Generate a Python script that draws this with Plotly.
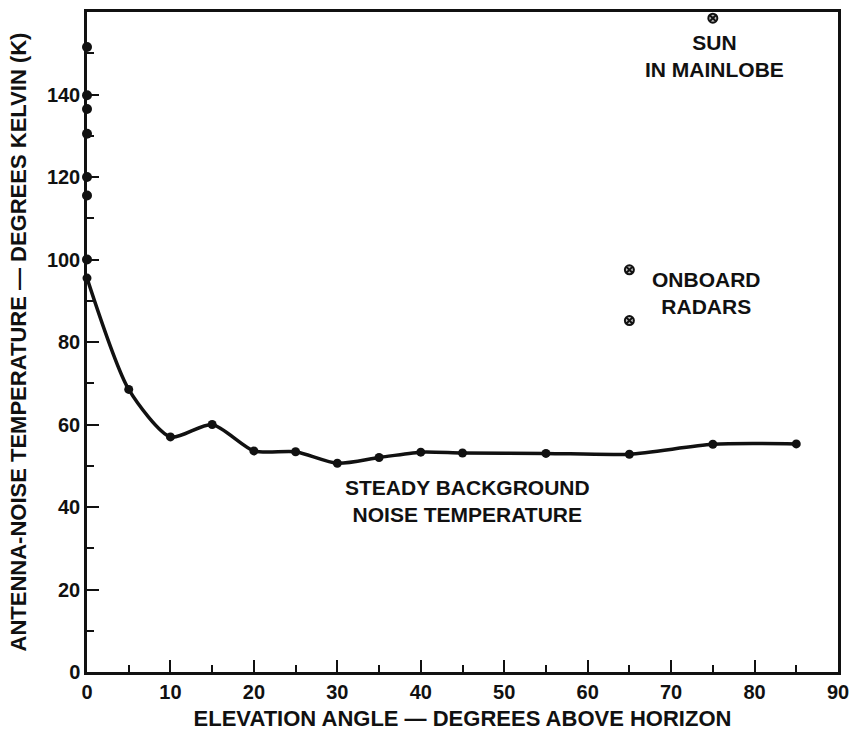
import plotly.graph_objects as go

# Steady background noise curve
curve_angle = [0, 5, 10, 15, 20, 25, 30, 35, 40, 45, 55, 65, 75, 85]
curve_temp = [95.5, 68.5, 57, 60, 53.6, 53.4, 50.6, 52, 53.3, 53.1, 53, 52.8, 55.2, 55.3]

# Points measured at zero elevation
zero_angle = [0, 0, 0, 0, 0, 0, 0]
zero_temp = [151.5, 139.8, 136.5, 130.5, 120, 115.5, 100]

# Special events
sun_angle = [75]
sun_temp = [158.5]
radar_angle = [65, 65]
radar_temp = [97.5, 85.2]

x_ticks = [0, 10, 20, 30, 40, 50, 60, 70, 80, 90]
y_ticks = [0, 20, 40, 60, 80, 100, 120, 140]

INK = "#111111"
FONT = "Liberation Sans"

fig = go.Figure()
fig.add_trace(go.Scatter(
    x=curve_angle, y=curve_temp, mode="lines+markers",
    line=dict(color=INK, width=3.5, shape="spline", smoothing=0.7),
    marker=dict(color=INK, size=9), cliponaxis=False, showlegend=False))
fig.add_trace(go.Scatter(
    x=zero_angle, y=zero_temp, mode="markers",
    marker=dict(color=INK, size=10), cliponaxis=False, showlegend=False))
fig.add_trace(go.Scatter(
    x=sun_angle + radar_angle, y=sun_temp + radar_temp, mode="markers",
    marker=dict(symbol="circle-x", color="#bbbbbb", size=9,
                line=dict(color=INK, width=2)),
    cliponaxis=False, showlegend=False))

ann_font = dict(family=FONT, size=21, color=INK, weight="bold")
fig.add_annotation(x=75.2, y=149.3, text="SUN<br>IN MAINLOBE", showarrow=False,
                   font=ann_font, align="center")
fig.add_annotation(x=74.3, y=92, text="ONBOARD<br>RADARS", showarrow=False,
                   font=ann_font, align="center")
fig.add_annotation(x=45.6, y=41.5, text="STEADY BACKGROUND<br>NOISE TEMPERATURE",
                   showarrow=False, font=ann_font, align="center")

axis_common = dict(
    showgrid=False, zeroline=False, showline=True, linecolor=INK, linewidth=2.5,
    mirror=True, ticks="inside", tickcolor=INK, tickwidth=2, automargin=False,
    tickfont=dict(family=FONT, size=20, color=INK, weight="bold"),
)
fig.update_xaxes(
    range=[0, 90], tickvals=x_ticks, ticklen=12,
    minor=dict(dtick=5, ticks="inside", ticklen=7, tickcolor=INK, tickwidth=2),
    title=dict(text="ELEVATION ANGLE — DEGREES ABOVE HORIZON", standoff=9,
               font=dict(family=FONT, size=22, color=INK, weight="bold")),
    **axis_common)
fig.update_yaxes(
    range=[0, 160], tickvals=y_ticks, ticklen=12,
    minor=dict(dtick=10, ticks="inside", ticklen=7, tickcolor=INK, tickwidth=2),
    title=dict(text="ANTENNA-NOISE TEMPERATURE — DEGREES KELVIN (K)", standoff=15,
               font=dict(family=FONT, size=22, color=INK, weight="bold")),
    **axis_common)

fig.update_layout(
    width=851, height=731, paper_bgcolor="white", plot_bgcolor="white",
    margin=dict(l=87, r=13, t=12, b=59),
)

fig.write_html("out.html", config={"displayModeBar": False},
               post_script="document.body.style.margin='0';document.body.style.overflow='hidden';")
